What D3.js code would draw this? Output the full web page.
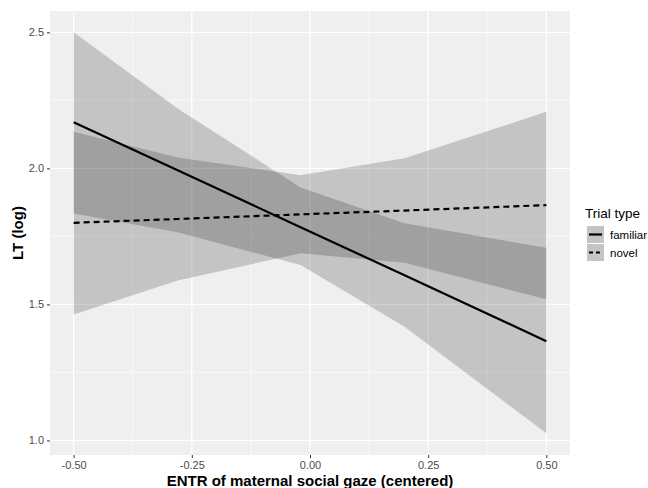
<!DOCTYPE html>
<html>
<head>
<meta charset="utf-8">
<script src="https://cdn.jsdelivr.net/npm/d3@7"></script>
<style>
  body { margin: 0; background: #fff; }
  svg { display: block; }
</style>
</head>
<body>
<svg id="chart" width="648" height="488"></svg>
<script>
// ---- data ----
const xValues = [-0.5, -0.28, -0.02, 0.2, 0.5];
const familiarFit   = [2.170, 1.993, 1.784, 1.607, 1.365];
const familiarLower = [1.834, 1.765, 1.645, 1.418, 1.026];
const familiarUpper = [2.500, 2.220, 1.930, 1.798, 1.708];
const novelFit      = [1.800, 1.814, 1.831, 1.845, 1.865];
const novelLower    = [1.463, 1.588, 1.688, 1.653, 1.519];
const novelUpper    = [2.135, 2.040, 1.975, 2.037, 2.208];
const xTicks = [-0.5, -0.25, 0, 0.25, 0.5];
const xTickLabels = ["-0.50", "-0.25", "0.00", "0.25", "0.50"];
const yTicks = [1.0, 1.5, 2.0, 2.5];
const yTickLabels = ["1.0", "1.5", "2.0", "2.5"];
const xMinor = [-0.375, -0.125, 0.125, 0.375];
const yMinor = [1.25, 1.75, 2.25];
const seriesNames = ["familiar", "novel"];
const legendTitle = "Trial type";
const xTitle = "ENTR of maternal social gaze (centered)";
const yTitle = "LT (log)";

// ---- layout ----
const panel = { left: 50, right: 570, top: 11, bottom: 455 };
const svg = d3.select("#chart");
const font = "'Liberation Sans', Arial, sans-serif";

const x = d3.scaleLinear().domain([-0.55, 0.55]).range([panel.left, panel.right]);
const y = d3.scaleLinear().domain([0.9465, 2.5785]).range([panel.bottom, panel.top]);

// panel background
svg.append("rect")
  .attr("x", panel.left).attr("y", panel.top)
  .attr("width", panel.right - panel.left).attr("height", panel.bottom - panel.top)
  .attr("fill", "#EFEFEF");

const grid = svg.append("g");
grid.selectAll(".xminor").data(xMinor).join("line")
  .attr("x1", d => x(d)).attr("x2", d => x(d))
  .attr("y1", panel.top).attr("y2", panel.bottom)
  .attr("stroke", "#fff").attr("stroke-width", 0.6);
grid.selectAll(".yminor").data(yMinor).join("line")
  .attr("y1", d => y(d)).attr("y2", d => y(d))
  .attr("x1", panel.left).attr("x2", panel.right)
  .attr("stroke", "#fff").attr("stroke-width", 0.6);
grid.selectAll(".xmajor").data(xTicks).join("line")
  .attr("x1", d => x(d)).attr("x2", d => x(d))
  .attr("y1", panel.top).attr("y2", panel.bottom)
  .attr("stroke", "#fff").attr("stroke-width", 1.2);
grid.selectAll(".ymajor").data(yTicks).join("line")
  .attr("y1", d => y(d)).attr("y2", d => y(d))
  .attr("x1", panel.left).attr("x2", panel.right)
  .attr("stroke", "#fff").attr("stroke-width", 1.2);

// ribbons
const ribbonFill = "#000";
const ribbonOpacity = 0.18;
function ribbon(lower, upper) {
  const pts = xValues.map((v, i) => ({ x: v, lo: lower[i], hi: upper[i] }));
  return d3.area().x(d => x(d.x)).y0(d => y(d.lo)).y1(d => y(d.hi))(pts);
}
svg.append("path").attr("d", ribbon(familiarLower, familiarUpper))
  .attr("fill", ribbonFill).attr("fill-opacity", ribbonOpacity);
svg.append("path").attr("d", ribbon(novelLower, novelUpper))
  .attr("fill", ribbonFill).attr("fill-opacity", ribbonOpacity);

// lines
const line = d3.line().x((d, i) => x(xValues[i])).y(d => y(d));
svg.append("path").attr("d", line(familiarFit))
  .attr("fill", "none").attr("stroke", "#000").attr("stroke-width", 2.2);
svg.append("path").attr("d", line(novelFit))
  .attr("fill", "none").attr("stroke", "#000").attr("stroke-width", 2.2)
  .attr("stroke-dasharray", "6,4");

// axes
const xAxis = d3.axisBottom(x).tickValues(xTicks).tickFormat((d, i) => xTickLabels[i]).tickSize(3).tickPadding(3);
const gx = svg.append("g").attr("transform", `translate(0,${panel.bottom})`).call(xAxis);
gx.select(".domain").remove();
gx.selectAll("line").attr("stroke", "#333");
gx.selectAll("text").attr("fill", "#4D4D4D").style("font-family", font).style("font-size", "11px");

const yAxis = d3.axisLeft(y).tickValues(yTicks).tickFormat((d, i) => yTickLabels[i]).tickSize(3).tickPadding(3);
const gy = svg.append("g").attr("transform", `translate(${panel.left},0)`).call(yAxis);
gy.select(".domain").remove();
gy.selectAll("line").attr("stroke", "#333");
gy.selectAll("text").attr("fill", "#4D4D4D").style("font-family", font).style("font-size", "11px");

// titles
svg.append("text").attr("x", (panel.left + panel.right) / 2).attr("y", 486)
  .attr("text-anchor", "middle").style("font-family", font).style("font-size", "15px")
  .style("font-weight", "bold").attr("fill", "#000").text(xTitle);
svg.append("text").attr("transform", `translate(23,${(panel.top + panel.bottom) / 2}) rotate(-90)`)
  .attr("text-anchor", "middle").style("font-family", font).style("font-size", "15px")
  .style("font-weight", "bold").attr("fill", "#000").text(yTitle);

// legend
const lg = svg.append("g");
lg.append("text").attr("x", 585).attr("y", 218).style("font-family", font)
  .style("font-size", "13.5px").attr("fill", "#000").text(legendTitle);
seriesNames.forEach((name, i) => {
  const ky = 226 + i * 18;
  lg.append("rect").attr("x", 587).attr("y", ky).attr("width", 17).attr("height", 17)
    .attr("fill", "#EFEFEF");
  lg.append("rect").attr("x", 587).attr("y", ky).attr("width", 17).attr("height", 17)
    .attr("fill", ribbonFill).attr("fill-opacity", ribbonOpacity);
  lg.append("line").attr("x1", 589).attr("x2", 602).attr("y1", ky + 8.5).attr("y2", ky + 8.5)
    .attr("stroke", "#000").attr("stroke-width", 2.2)
    .attr("stroke-dasharray", i === 1 ? "4,3" : null);
  lg.append("text").attr("x", 610).attr("y", ky + 12.5).style("font-family", font)
    .style("font-size", "11.5px").attr("fill", "#000").text(name);
});
</script>
</body>
</html>
